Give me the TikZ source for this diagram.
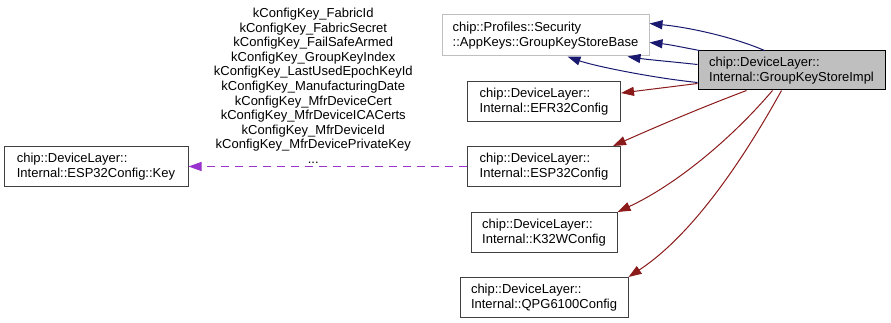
\documentclass[tikz,border=0pt]{standalone}
\usepackage{fontspec}
\setmainfont{Liberation Sans}
\usetikzlibrary{arrows.meta,calc}
\definecolor{edgeblue}{RGB}{25,25,112}
\definecolor{edgered}{RGB}{139,26,26}
\definecolor{edgepurple}{RGB}{154,50,205}
\definecolor{boxgrey}{RGB}{64,64,64}
\definecolor{lightborder}{RGB}{191,191,191}
\definecolor{implfill}{RGB}{191,191,191}
\tikzset{
  base/.style={font=\fontsize{13pt}{14.6pt}\selectfont, align=left, inner sep=0pt, text=black},
  box/.style={base, rectangle, draw=boxgrey, fill=white, line width=1pt, minimum height=40},
  lbl/.style={base, align=center},
  tip/.style={-{Triangle[length=13pt,width=9pt]}, line width=1pt},
  arrb/.style={tip, draw=edgeblue},
  arrr/.style={tip, draw=edgered},
  arrp/.style={tip, draw=edgepurple, dash pattern=on 8pt off 6pt},
}

\begin{document}
\begin{tikzpicture}[x=1pt,y=-1pt]
  \useasboundingbox (0,0) rectangle (891,323);
  % base class and its implementation
  \node[box,draw=lightborder,minimum width=207,minimum height=41] (base) at (545.5,35.5) {chip::Profiles::Security\\::AppKeys::GroupKeyStoreBase};
  \node[box,fill=implfill,draw=black,minimum width=187,minimum height=39] (impl) at (791.5,70.5) {chip::DeviceLayer::\\Internal::GroupKeyStoreImpl};
  % platform config classes
  \foreach \n/\t/\y/\w in {efr/EFR32Config/101.5/153,esp/ESP32Config/166.5/153,k32w/K32WConfig/232.5/146,qpg/QPG6100Config/297.5/168}{
    \node[box,minimum width=\w] (\n) at (544,\y) {chip::DeviceLayer::\\Internal::\t};
  }
  \node[box,minimum width=184] (key) at (96,166.5) {chip::DeviceLayer::\\Internal::ESP32Config::Key};
  % inheritance from the base class
  \draw[arrb] ($(impl.north west)+(67,0)$) .. controls +(-30,-13) and +(41,4) .. ($(base.north east)+(0,9)$);
  \draw[arrb] ($(impl.north west)+(2,0)$) .. controls +(-16,-3) and +(20,2) .. ($(base.south east)+(0,-14)$);
  \draw[arrb] ($(impl.north west)+(0,14)$) .. controls +(-28,-3) and +(19,3) .. ($(base.south east)+(-22,0)$);
  \draw[arrb] ($(impl.south west)+(0,-8)$) .. controls +(-48,-5) and +(25,9) .. ($(base.south)+(22,0)$);
  % inheritance from the configs
  \draw[arrr] ($(impl.south west)+(0,-7)$) -- ($(efr.north east)+(0,12)$);
  \draw[arrr] ($(impl.south west)+(49,0)$) .. controls +(-45,17) and +(45,-20) .. ($(esp.north east)+(-8,0)$);
  \draw[arrr] ($(impl.south west)+(75,0)$) .. controls +(-40,47) and +(60,-28) .. (k32w.north east);
  \draw[arrr] ($(impl.south west)+(84,0)$) .. controls +(-30,54) and +(70,-46) .. (qpg.north east);
  % usage of the key enum
  \draw[arrp] (esp.west) -- (key.east)
    node[lbl,pos=0.552,anchor=south,yshift=2.5pt] (keylbl) {kConfigKey\_FabricId\\kConfigKey\_FabricSecret\\kConfigKey\_FailSafeArmed\\kConfigKey\_GroupKeyIndex\\kConfigKey\_LastUsedEpochKeyId\\kConfigKey\_ManufacturingDate\\kConfigKey\_MfrDeviceCert\\kConfigKey\_MfrDeviceICACerts\\kConfigKey\_MfrDeviceId\\kConfigKey\_MfrDevicePrivateKey\\...};
\end{tikzpicture}
\end{document}
